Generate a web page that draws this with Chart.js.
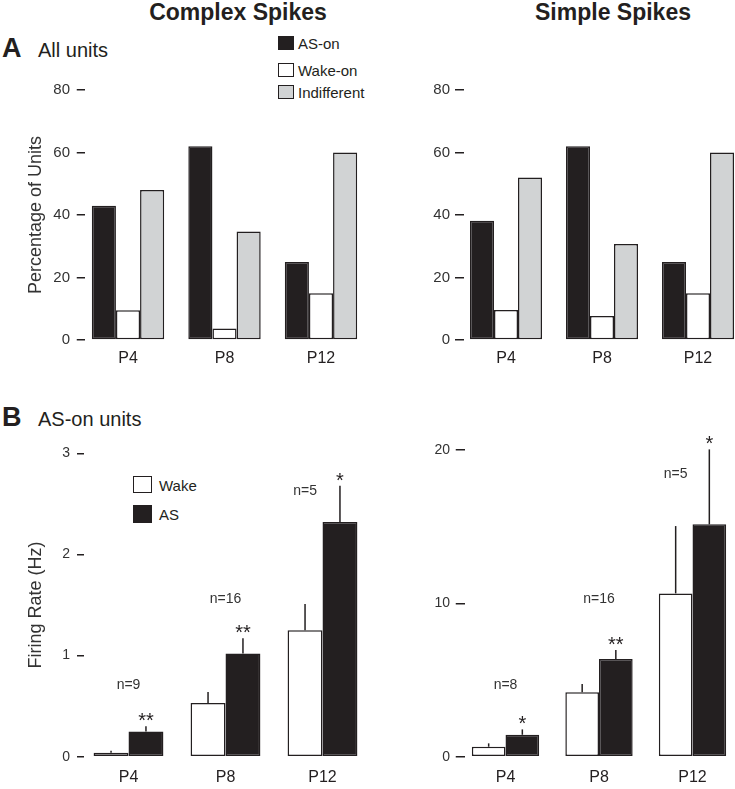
<!DOCTYPE html>
<html>
<head>
<meta charset="utf-8">
<script src="https://cdn.jsdelivr.net/npm/chart.js@4"></script>
<style>
  html, body { margin: 0; padding: 0; background: #fff; overflow: hidden; }
  #page { position: relative; width: 735px; height: 789px; overflow: hidden;
          font-family: "Liberation Sans", Arial, sans-serif; color: #231f20; }
  #page canvas { position: absolute; }
  .txt { position: absolute; white-space: nowrap; line-height: 1; }
  .head { font-weight: bold; font-size: 23px; transform: translateX(-50%); }
  .letter { font-weight: bold; font-size: 27px; }
  .sub { font-size: 20px; }
  .key { position: absolute; font-size: 15px; line-height: 1; white-space: nowrap; }
  .key i { position: absolute; left: 0; box-sizing: border-box; border: 1.5px solid #231f20; }
  .key span { position: absolute; transform: translateY(-50%); }
</style>
</head>
<body>
<div id="page">
  <div class="txt head" style="left:238px; top:1px;">Complex Spikes</div>
  <div class="txt head" style="left:613px; top:1px;">Simple Spikes</div>
  <div class="txt letter" style="left:2px; top:35px;">A</div>
  <div class="txt sub" style="left:38px; top:40px;">All units</div>
  <div class="txt letter" style="left:2px; top:404px;">B</div>
  <div class="txt sub" style="left:38px; top:409px;">AS-on units</div>

  <!-- legend, panel A -->
  <div class="key" style="left:278px; top:0;">
    <i style="top:36px; width:16px; height:14px; background:#231f20;"></i><span style="left:20px; top:43px;">AS-on</span>
    <i style="top:63px; width:16px; height:14px; background:#fff;"></i><span style="left:20px; top:70px;">Wake-on</span>
    <i style="top:85px; width:16px; height:14px; background:#d1d3d4;"></i><span style="left:20px; top:92px;">Indifferent</span>
  </div>
  <!-- legend, panel B -->
  <div class="key" style="left:133px; top:0;">
    <i style="top:476px; width:19px; height:17px; background:#fff;"></i><span style="left:26px; top:485px;">Wake</span>
    <i style="top:505px; width:19px; height:18px; background:#231f20;"></i><span style="left:26px; top:514px;">AS</span>
  </div>

  <canvas id="csAll" width="380" height="330" style="left:0; top:50px;"></canvas>
  <canvas id="ssAll" width="380" height="330" style="left:380px; top:50px;"></canvas>
  <canvas id="csRate" width="380" height="409" style="left:0; top:380px;"></canvas>
  <canvas id="ssRate" width="380" height="409" style="left:380px; top:380px;"></canvas>
</div>

<script>
  // ---- data ----
  const categories = ["P4", "P8", "P12"];

  // A: percentage of units
  const csAsOn = [43, 62, 25];
  const csWakeOn = [9.5, 3.7, 15];
  const csIndifferent = [48, 34.7, 60];
  const ssAsOn = [38.2, 62, 25];
  const ssWakeOn = [9.6, 7.7, 15];
  const ssIndifferent = [52, 30.7, 60];
  const percentTicks = [0, 20, 40, 60, 80];

  // B: firing rate (Hz), mean and SEM
  const csWake = [0.04, 0.53, 1.25];
  const csWakeSem = [0.02, 0.11, 0.26];
  const csAS = [0.25, 1.02, 2.32];
  const csASSem = [0.05, 0.15, 0.36];
  const ssWake = [0.65, 4.2, 10.65];
  const ssWakeSem = [0.22, 0.54, 4.39];
  const ssAS = [1.43, 6.37, 15.15];
  const ssASSem = [0.35, 0.59, 4.89];

  const csN = ["n=9", "n=16", "n=5"];
  const csNAt = [0.71, 1.56, 2.63];
  const csStars = ["**", "**", "*"];
  const ssN = ["n=8", "n=16", "n=5"];
  const ssNAt = [4.67, 10.3, 18.4];
  const ssStars = ["*", "**", "*"];
  const nOverWake = [false, false, true];

  // ---- styles ----
  const INK = "#231f20";
  const GREY = "#d1d3d4";
  const FONT = '"Liberation Sans", Arial, sans-serif';
  Chart.defaults.font.family = FONT;
  Chart.defaults.color = INK;

  // error bars (upward only), asterisks and n= labels
  const annotate = {
    id: "annotate",
    afterDatasetsDraw(chart, args, opts) {
      const ctx = chart.ctx;
      const y = chart.scales.y;
      ctx.save();
      ctx.strokeStyle = INK;
      ctx.lineWidth = 1.5;
      chart.data.datasets.forEach((ds, i) => {
        if (!ds.errors) return;
        chart.getDatasetMeta(i).data.forEach((bar, j) => {
          const top = y.getPixelForValue(ds.data[j] + ds.errors[j]);
          ctx.beginPath();
          ctx.moveTo(bar.x, bar.y);
          ctx.lineTo(bar.x, top);
          ctx.stroke();
          if (opts.stars && ds.starred) {
            ctx.fillStyle = INK;
            ctx.font = "20px " + FONT;
            ctx.textAlign = "center";
            ctx.textBaseline = "alphabetic";
            ctx.fillText(opts.stars[j], bar.x, top + 1);
          }
        });
      });
      if (opts.n) {
        const wake = chart.getDatasetMeta(0).data;
        const as = chart.getDatasetMeta(1).data;
        ctx.fillStyle = "#333";
        ctx.font = "14px " + FONT;
        ctx.textAlign = "center";
        ctx.textBaseline = "middle";
        opts.n.forEach((label, j) => {
          const x = opts.overWake[j] ? wake[j].x : (wake[j].x + as[j].x) / 2;
          ctx.fillText(label, x, y.getPixelForValue(opts.nAt[j]));
        });
      }
      ctx.restore();
    },
  };

  function barSet(label, data, color, extra) {
    return Object.assign({
      label: label,
      data: data,
      backgroundColor: color,
      borderColor: INK,
      borderWidth: 1.5,
      borderSkipped: false,
    }, extra || {});
  }

  // g: canvas box + wanted chart area, in canvas pixels
  function makeChart(id, g, datasets, yOpts, groupFrac, annot) {
    return new Chart(document.getElementById(id), {
      type: "bar",
      data: { labels: categories, datasets: datasets },
      plugins: [annotate],
      options: {
        responsive: false,
        animation: false,
        datasets: { bar: { categoryPercentage: groupFrac, barPercentage: 1.0 } },
        layout: {
          padding: {
            left: 0,
            top: g.top,
            right: g.width - g.right,
            bottom: g.height - g.bottom - g.xh,
          },
        },
        plugins: {
          legend: { display: false },
          tooltip: { enabled: false },
          annotate: annot || {},
        },
        scales: {
          x: {
            grid: { display: false },
            border: { display: false },
            ticks: { font: { size: 16 }, color: INK, padding: g.xpad },
            afterFit: (s) => { s.height = g.xh; },
          },
          y: {
            min: 0,
            max: yOpts.max,
            afterBuildTicks: (s) => { s.ticks = yOpts.ticks.map((v) => ({ value: v })); },
            ticks: { font: { size: yOpts.fontSize }, color: "#333", padding: g.ypad },
            grid: {
              drawOnChartArea: true,
              color: INK,
              lineWidth: 1.5,
              tickLength: 3,
              tickColor: INK,
              tickWidth: 1.5,
            },
            border: { display: false, dash: [g.dash, 4000] },
            title: {
              display: !!yOpts.title,
              text: yOpts.title || "",
              font: { size: 18 },
              color: "#333",
              padding: { top: 25, bottom: 0 },
            },
            afterFit: (s) => { s.width = g.left; },
          },
        },
      },
    });
  }

  // ---- A: all units ----
  makeChart("csAll",
    { width: 380, height: 330, left: 79.75, right: 369.25, top: 40, bottom: 290, xh: 30, xpad: 1, ypad: 6.75, dash: 5 },
    [
      barSet("AS-on", csAsOn, INK),
      barSet("Wake-on", csWakeOn, "#fff"),
      barSet("Indifferent", csIndifferent, GREY),
    ],
    { max: 80, ticks: percentTicks, fontSize: 15, title: "Percentage of Units" }, 0.75);

  makeChart("ssAll",
    { width: 380, height: 330, left: 78, right: 366, top: 40, bottom: 290, xh: 30, xpad: 1, ypad: 5, dash: 6 },
    [
      barSet("AS-on", ssAsOn, INK),
      barSet("Wake-on", ssWakeOn, "#fff"),
      barSet("Indifferent", ssIndifferent, GREY),
    ],
    { max: 80, ticks: percentTicks, fontSize: 15 }, 0.75);

  // ---- B: AS-on units firing rate ----
  makeChart("csRate",
    { width: 380, height: 409, left: 80, right: 371, top: 73.3, bottom: 376.7, xh: 28, xpad: 3, ypad: 7, dash: 4 },
    [
      barSet("Wake", csWake, "#fff", { errors: csWakeSem }),
      barSet("AS", csAS, INK, { errors: csASSem, starred: true }),
    ],
    { max: 3, ticks: [0, 1, 2, 3], fontSize: 14, title: "Firing Rate (Hz)" }, 0.72,
    { n: csN, nAt: csNAt, overWake: nOverWake, stars: csStars });

  makeChart("ssRate",
    { width: 380, height: 409, left: 78.75, right: 359.25, top: 70, bottom: 376.7, xh: 28, xpad: 3, ypad: 5.75, dash: 6 },
    [
      barSet("Wake", ssWake, "#fff", { errors: ssWakeSem }),
      barSet("AS", ssAS, INK, { errors: ssASSem, starred: true }),
    ],
    { max: 20, ticks: [0, 10, 20], fontSize: 14 }, 0.72,
    { n: ssN, nAt: ssNAt, overWake: nOverWake, stars: ssStars });
</script>
</body>
</html>
